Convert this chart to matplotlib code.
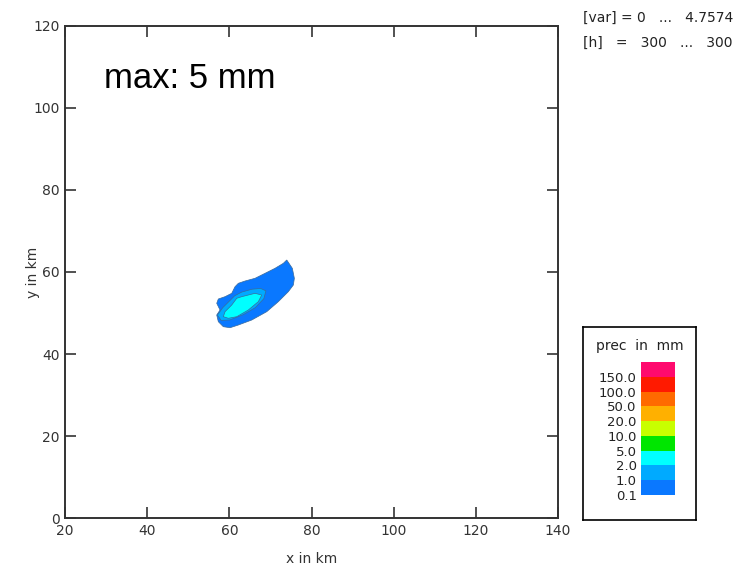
import matplotlib
matplotlib.use("Agg")
import matplotlib.pyplot as plt

# precipitation contour outlines (km)
outer_x = [73.97, 75.33, 75.82, 75.58, 74.36, 71.92, 69.10, 65.45, 62.19, 60.17, 58.53, 57.32, 56.93,
           57.73, 56.93, 57.32, 58.95, 60.58, 61.38, 62.19, 63.82, 66.25, 68.69, 71.12, 73.14]
outer_y = [62.93, 60.90, 58.46, 56.83, 55.20, 52.76, 50.32, 48.29, 47.07, 46.41, 46.66, 47.88, 49.51,
           50.73, 52.37, 53.41, 53.98, 54.80, 56.41, 57.24, 57.80, 58.46, 59.68, 60.90, 62.12]
mid_x = [68.9, 68.4, 66.3, 63.4, 60.1, 58.0, 57.1, 58.4, 60.1, 61.3, 63.0, 65.5, 67.6]
mid_y = [55.4, 53.5, 51.3, 49.6, 48.3, 48.2, 49.5, 51.3, 53.0, 54.2, 55.1, 55.8, 56.0]
inner_x = [67.88, 67.05, 64.62, 61.80, 59.75, 58.53, 58.95, 60.58, 61.80, 63.01, 64.62, 66.25]
inner_y = [54.39, 52.76, 50.73, 49.10, 48.71, 49.10, 50.32, 51.95, 53.59, 53.98, 54.39, 54.80]

levels = ["0.1", "1.0", "2.0", "5.0", "10.0", "20.0", "50.0", "100.0", "150.0"]
colours = ["#0a78ff", "#00aaff", "#00ffff", "#00e600", "#c8ff00",
           "#ffb000", "#ff6a00", "#ff1a00", "#ff0a6e"]

fig = plt.figure(figsize=(7.46, 5.71), dpi=100)
ax = fig.add_axes([0.0871, 0.0928, 0.661, 0.8617])

for xs, ys, c in [(outer_x, outer_y, colours[0]), (mid_x, mid_y, colours[1]),
                  (inner_x, inner_y, colours[2])]:
    ax.fill(xs, ys, facecolor=c, edgecolor="#3a6a9a", linewidth=0.5)

ax.set_xlim(20, 140)
ax.set_ylim(0, 120)
ax.set_xticks(range(20, 141, 20))
ax.set_yticks(range(0, 121, 20))
ax.tick_params(direction="in", length=8, width=1.2, top=True, right=True,
               labelsize=10, labelcolor="#333333", color="#333333", pad=4)
for s in ax.spines.values():
    s.set_linewidth(1.4)
    s.set_color("#333333")
ax.set_xlabel("x in km", fontsize=10, color="#333333")
ax.set_ylabel("y in km", fontsize=10, color="#333333")
ax.xaxis.set_label_coords(0.5, -0.07)
ax.yaxis.set_label_coords(-0.05, 0.5)
ax.text(0.08, 0.893, "max: 5 mm", transform=ax.transAxes, fontsize=25,
        family="Liberation Sans", va="center")

fig.text(0.781, 0.968, "[var] = 0   ...   4.7574", fontsize=10, color="#222222", va="center")
fig.text(0.781, 0.925, "[h]   =   300   ...   300", fontsize=10, color="#222222", va="center")

# legend box
box = fig.add_axes([0.7815, 0.0893, 0.1515, 0.338])
box.set_xticks([])
box.set_yticks([])
for s in box.spines.values():
    s.set_linewidth(1.2)
box.text(0.5, 0.9, "prec  in  mm", ha="center", va="center", fontsize=10,
         color="#222222", transform=box.transAxes)

cb = fig.add_axes([0.859, 0.1331, 0.046, 0.2329])
cb.bar([0] * len(colours), [1] * len(colours), bottom=range(len(colours)),
       color=colours, width=1, align="edge")
cb.set_xlim(0, 1)
cb.set_ylim(0, len(colours))
cb.set_xticks([])
cb.set_yticks(range(len(levels)))
cb.set_yticklabels(levels)
cb.tick_params(length=0, labelsize=9.5, pad=3, labelcolor="#222222")
for s in cb.spines.values():
    s.set_visible(False)

fig.savefig("out.png", dpi=100)
